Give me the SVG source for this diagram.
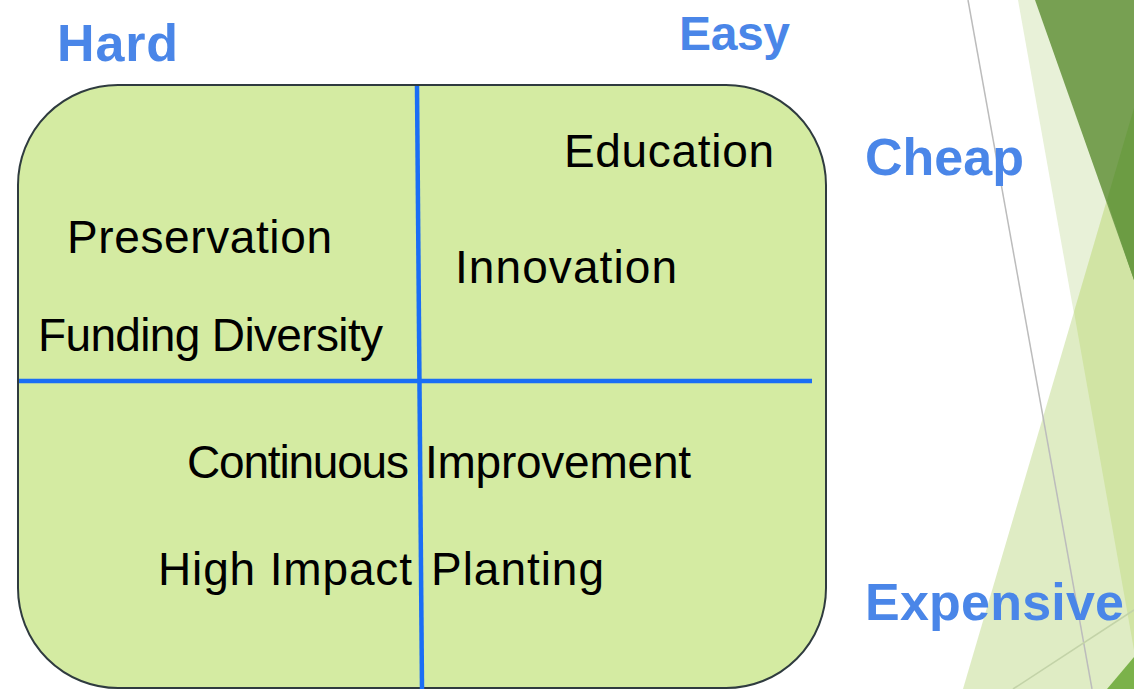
<svg xmlns="http://www.w3.org/2000/svg" width="1134" height="689" viewBox="0 0 1134 689">
<style>
.lbl{font-family:"Liberation Sans",Arial,sans-serif;font-size:46px;fill:#000}
.axis{font-family:"Liberation Sans",Arial,sans-serif;font-size:52px;font-weight:bold;fill:#4a86e8}
.div{stroke:#1a6ef5;stroke-width:4.5;fill:none}
</style>
<rect width="1134" height="689" fill="#ffffff"/>
<g id="decor">
<polygon points="1018,0 1134,0 1134,650" fill="#e8f1d8"/>
<polygon points="1134,108 963,689 1134,689" fill="#dfecc4"/>
<polygon points="1134,108 1074,312 1134,650" fill="#d1e4a4"/>
<polygon points="1035,0 1134,0 1134,280" fill="#77a052"/>
<polygon points="1134,108 1107,200 1134,280" fill="#6c9c43"/>
<polygon points="1107,689 1134,657 1134,689" fill="#7bb24a"/>
<line x1="968" y1="0" x2="1092" y2="689" stroke="#bcbcbc" stroke-width="1.5"/>
<line x1="1013" y1="689" x2="1134" y2="610" stroke="#c3d3a8" stroke-width="1.5"/>
</g>
<g id="matrix">
<rect x="18" y="85" width="808" height="603" rx="100" ry="100" fill="#d4eba2" stroke="#2f3b3f" stroke-width="2"/>
</g>
<g id="connectors">
<line class="div" x1="417" y1="86" x2="422" y2="689"/>
<line class="div" x1="19" y1="381" x2="812" y2="381"/>
</g>
<g id="label-hard"><text class="axis" x="57" y="61" textLength="121">Hard</text></g>
<g id="label-easy"><text class="axis" x="679" y="50" style="font-size:48px" textLength="111">Easy</text></g>
<g id="label-cheap"><text class="axis" x="865" y="175" textLength="159">Cheap</text></g>
<g id="label-expensive"><text class="axis" x="865" y="620" textLength="259">Expensive</text></g>
<g id="item-education"><text class="lbl" x="564" y="167" textLength="210">Education</text></g>
<g id="item-preservation"><text class="lbl" x="67" y="253" textLength="265">Preservation</text></g>
<g id="item-innovation"><text class="lbl" x="455" y="283" textLength="222">Innovation</text></g>
<g id="item-funding"><text class="lbl" x="38" y="351" textLength="345">Funding Diversity</text></g>
<g id="item-continuous"><text class="lbl" x="187" y="478" textLength="222">Continuous</text><text class="lbl" x="425" y="478" textLength="266">Improvement</text></g>
<g id="item-planting"><text class="lbl" x="158" y="585" textLength="254">High Impact</text><text class="lbl" x="431" y="585" textLength="173">Planting</text></g>
</svg>
